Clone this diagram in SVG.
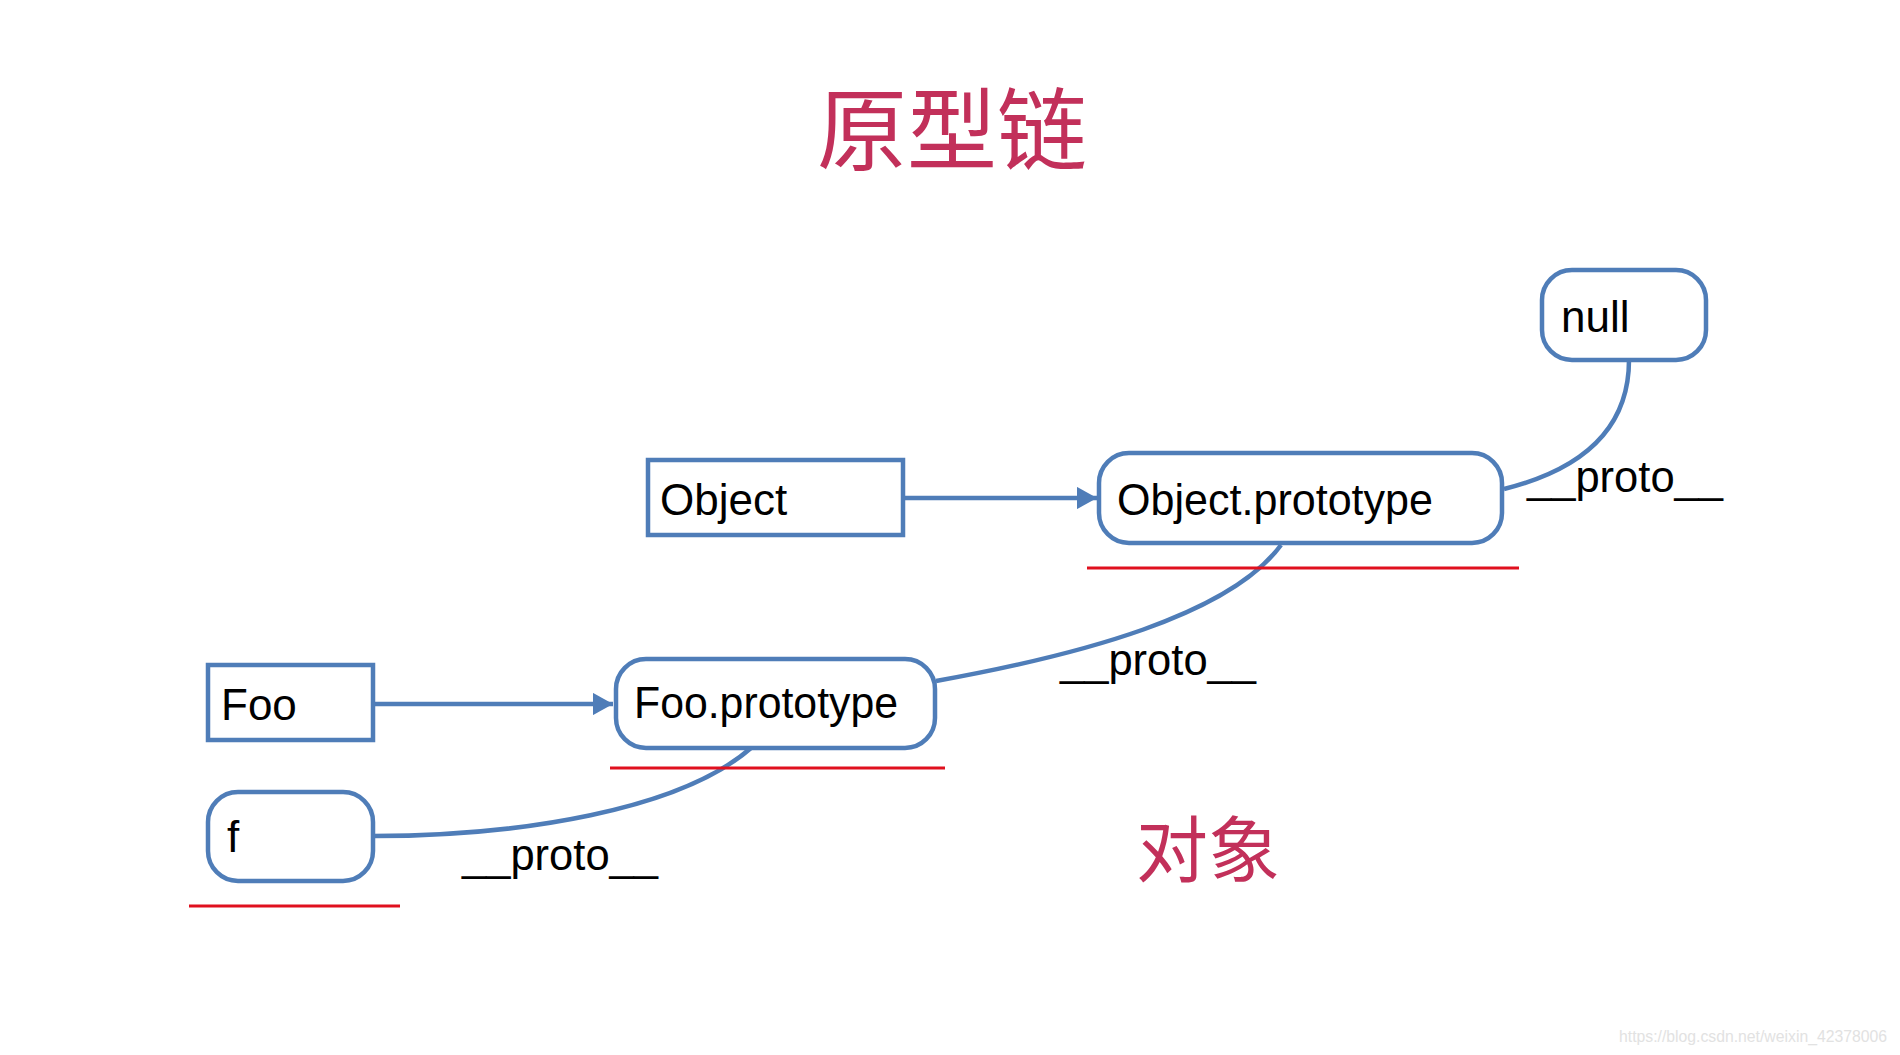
<svg xmlns="http://www.w3.org/2000/svg" width="1900" height="1055" viewBox="0 0 1900 1055">
  <style>
    .box { fill: #FFFFFF; stroke: #4F7DB8; stroke-width: 4.5; }
    .edge { fill: none; stroke: #4F7DB8; stroke-width: 4.5; }
    .lbl { font-family: "Liberation Sans", Arial, sans-serif; font-size: 44px; fill: #000000; }
    .red { stroke: #E0101E; stroke-width: 3; }
    .title { font-family: "Noto Sans CJK SC", "Noto Sans", sans-serif; fill: #C2305A; text-anchor: middle; }
  </style>
  <defs>
    <marker id="arr" markerWidth="5" markerHeight="5" refX="4.5" refY="2.5" orient="auto" markerUnits="strokeWidth">
      <path d="M0,0 L4.5,2.5 L0,5 Z" fill="#4F7DB8"/>
    </marker>
  </defs>
  <rect width="1900" height="1055" fill="#FFFFFF"/>

  <text class="title" x="952" y="163" font-size="90">原型链</text>
  <text class="title" x="1208" y="876" font-size="72">对象</text>

  <g id="connectors">
    <line class="edge" x1="903" y1="498" x2="1097" y2="498" marker-end="url(#arr)"/>
    <line class="edge" x1="373" y1="704" x2="613" y2="704" marker-end="url(#arr)"/>
    <path class="edge" d="M1504,489 C1580,470 1629,430 1629,360"/>
    <path class="edge" d="M936,681 C1080,655 1230,615 1281,545"/>
    <path class="edge" d="M373,836 C520,836 680,810 751,748"/>
    <text class="lbl" x="1527" y="492" textLength="196" lengthAdjust="spacingAndGlyphs">__proto__</text>
    <text class="lbl" x="1060" y="675" textLength="196" lengthAdjust="spacingAndGlyphs">__proto__</text>
    <text class="lbl" x="462" y="870" textLength="196" lengthAdjust="spacingAndGlyphs">__proto__</text>
  </g>

  <g id="node-null">
    <rect class="box" x="1542" y="270" width="164" height="90" rx="30" ry="30"/>
    <text class="lbl" x="1561" y="332">null</text>
  </g>
  <g id="node-object">
    <rect class="box" x="648" y="460" width="255" height="75"/>
    <text class="lbl" x="660" y="515">Object</text>
  </g>
  <g id="node-object-prototype">
    <rect class="box" x="1099" y="453" width="403" height="90" rx="30" ry="30"/>
    <text class="lbl" x="1117" y="515" textLength="316" lengthAdjust="spacingAndGlyphs">Object.prototype</text>
    <line class="red" x1="1087" y1="568" x2="1519" y2="568"/>
  </g>
  <g id="node-foo">
    <rect class="box" x="208" y="665" width="165" height="75"/>
    <text class="lbl" x="221" y="720">Foo</text>
  </g>
  <g id="node-foo-prototype">
    <rect class="box" x="616" y="659" width="319" height="89" rx="30" ry="30"/>
    <text class="lbl" x="634" y="718" textLength="264" lengthAdjust="spacingAndGlyphs">Foo.prototype</text>
    <line class="red" x1="610" y1="768" x2="945" y2="768"/>
  </g>
  <g id="node-f">
    <rect class="box" x="208" y="792" width="165" height="89" rx="30" ry="30"/>
    <text class="lbl" x="227" y="852">f</text>
    <line class="red" x1="189" y1="906" x2="400" y2="906"/>
  </g>

  <text x="1619" y="1042" font-family="Liberation Sans, Arial, sans-serif" font-size="16" fill="#E2E2E2" textLength="268" lengthAdjust="spacingAndGlyphs">https://blog.csdn.net/weixin_42378006</text>
</svg>
